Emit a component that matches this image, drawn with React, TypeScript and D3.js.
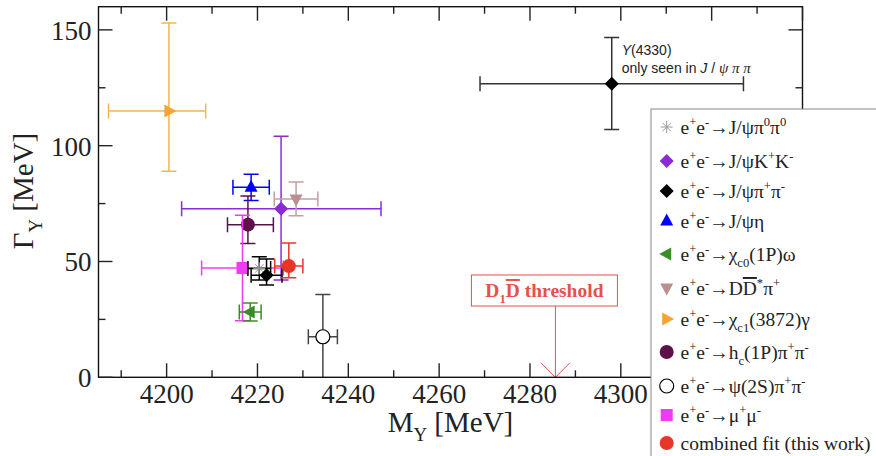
import React from 'react';
import * as d3 from 'd3';

// ---------- data ----------
const seriesLabels = [
  'e^{+}e^{-}→J/ψπ^{0}π^{0}',
  'e^{+}e^{-}→J/ψK^{+}K^{-}',
  'e^{+}e^{-}→J/ψπ^{+}π^{-}',
  'e^{+}e^{-}→J/ψη',
  'e^{+}e^{-}→χ_{c0}(1P)ω',
  'e^{+}e^{-}→D~{D}^{*}π^{+}',
  'e^{+}e^{-}→χ_{c1}(3872)γ',
  'e^{+}e^{-}→h_{c}(1P)π^{+}π^{-}',
  'e^{+}e^{-}→ψ(2S)π^{+}π^{-}',
  'e^{+}e^{-}→μ^{+}μ^{-}',
  'combined fit (this work)',
];
const massMeV = [4220.4, 4225.2, 4222.0, 4218.6, 4218.4, 4228.5, 4200.5, 4217.9, 4234.4, 4216.7, 4226.9];
const massErrLo = [2.5, 21.9, 3.4, 4.0, 2.4, 4.8, 13.3, 4.5, 3.2, 9.0, 3.1];
const massErrHi = [2.5, 22.0, 3.4, 4.0, 2.4, 4.8, 8.1, 5.6, 3.2, 9.0, 3.1];
const widthMeV = [47.0, 72.8, 44.1, 82.0, 28.2, 77.0, 115.0, 65.9, 17.5, 47.2, 48.0];
const widthErrLo = [5.0, 30.8, 4.3, 5.7, 3.9, 7.3, 26.0, 8.1, 18.3, 22.8, 5.0];
const widthErrHi = [5.0, 31.3, 7.0, 5.7, 3.9, 7.3, 38.0, 12.4, 18.3, 22.8, 10.0];

const y4330Mass = 4298.0;
const y4330MassErr = [29.0, 29.0];
const y4330Width = 126.7;
const y4330WidthErr = [19.7, 20.0];

const thresholdMass = 4285.6;
const thresholdLabel = 'D_{1}~{D} threshold';

const xMajorTicks = [4200, 4220, 4240, 4260, 4280, 4300, 4320, 4340];
const xMinorTicks = [4190, 4210, 4230, 4250, 4270, 4290, 4310, 4330];
const yMajorTicks = [0, 50, 100, 150];
const yMinorTicks = [25, 75, 125];

// ---------- style ----------
const markerKind = ['asterisk', 'diamond', 'diamond', 'triUp', 'triLeft', 'triDown', 'triRight', 'circle', 'open', 'square', 'circle'];
const markerColor = ['#9a9a9a', '#8A2BD6', '#000000', '#0000FF', '#3A8C26', '#B99090', '#F5A431', '#5C1148', '#000000', '#F03CF0', '#E8352A'];
const barColor = ['#000000', '#8A2BD6', '#000000', '#0000FF', '#3A8C26', '#C0A0A0', '#F5B454', '#5C1148', '#444444', '#F03CF0', '#E8352A'];

const SERIF = "'Liberation Serif', 'Times New Roman', Times, serif";
const SANS = "'Liberation Sans', Arial, Helvetica, sans-serif";

type Seg = { t: string; k: string };
function parseRich(s: string): Seg[] {
  const out: Seg[] = [];
  const re = /([\^_~])\{([^}]*)\}/g;
  let i = 0;
  let m: RegExpExecArray | null;
  while ((m = re.exec(s))) {
    if (m.index > i) out.push({ t: s.slice(i, m.index), k: 'n' });
    out.push({ t: m[2], k: m[1] === '^' ? 'sup' : m[1] === '_' ? 'sub' : 'bar' });
    i = re.lastIndex;
  }
  if (i < s.length) out.push({ t: s.slice(i), k: 'n' });
  return out;
}

function Rich({ s, fs }: { s: string; fs: number }) {
  const segs = parseRich(s);
  let cur = 0;
  return (
    <>
      {segs.map((p, i) => {
        const target = p.k === 'sup' ? -0.42 * fs : p.k === 'sub' ? 0.3 * fs : 0;
        const dy = target - cur;
        cur = target;
        const small = p.k === 'sup' || p.k === 'sub';
        return (
          <tspan
            key={i}
            dy={dy}
            fontSize={small ? fs * 0.65 : fs}
            style={p.k === 'bar' ? { textDecoration: 'overline' } : undefined}
          >
            {p.t}
          </tspan>
        );
      })}
    </>
  );
}

function Marker({ kind, cx, cy, color }: { kind: string; cx: number; cy: number; color: string }) {
  switch (kind) {
    case 'diamond':
      return <path d={`M${cx},${cy - 7}L${cx + 7},${cy}L${cx},${cy + 7}L${cx - 7},${cy}Z`} fill={color} />;
    case 'triUp':
      return <path d={`M${cx},${cy - 7.5}L${cx + 6.5},${cy + 4.5}L${cx - 6.5},${cy + 4.5}Z`} fill={color} />;
    case 'triDown':
      return <path d={`M${cx},${cy + 7.5}L${cx + 6.5},${cy - 4.5}L${cx - 6.5},${cy - 4.5}Z`} fill={color} />;
    case 'triLeft':
      return <path d={`M${cx - 7.5},${cy}L${cx + 4.5},${cy - 6.5}L${cx + 4.5},${cy + 6.5}Z`} fill={color} />;
    case 'triRight':
      return <path d={`M${cx + 7.5},${cy}L${cx - 4.5},${cy - 6.5}L${cx - 4.5},${cy + 6.5}Z`} fill={color} />;
    case 'circle':
      return <circle cx={cx} cy={cy} r={7} fill={color} />;
    case 'open':
      return <circle cx={cx} cy={cy} r={7} fill="#fff" stroke={color} strokeWidth={1.2} />;
    case 'square':
      return <rect x={cx - 6} y={cy - 6} width={12} height={12} fill={color} />;
    case 'asterisk':
      return (
        <g stroke={color} strokeWidth={1}>
          <line x1={cx - 6} y1={cy} x2={cx + 6} y2={cy} />
          <line x1={cx} y1={cy - 6} x2={cx} y2={cy + 6} />
          <line x1={cx - 4.3} y1={cy - 4.3} x2={cx + 4.3} y2={cy + 4.3} />
          <line x1={cx - 4.3} y1={cy + 4.3} x2={cx + 4.3} y2={cy - 4.3} />
        </g>
      );
    default:
      return null;
  }
}

function ErrorBars({ x0, x1, y0, y1, cx, cy, color }: any) {
  const c = 7.5;
  return (
    <g stroke={color} strokeWidth={1.5} fill="none">
      <line x1={x0} y1={cy} x2={x1} y2={cy} />
      <line x1={cx} y1={y0} x2={cx} y2={y1} />
      <line x1={x0} y1={cy - c} x2={x0} y2={cy + c} />
      <line x1={x1} y1={cy - c} x2={x1} y2={cy + c} />
      <line x1={cx - c} y1={y0} x2={cx + c} y2={y0} />
      <line x1={cx - c} y1={y1} x2={cx + c} y2={y1} />
    </g>
  );
}

export default function App() {
  const W = 876;
  const H = 456;
  const left = 98.5, right = 802.5, top = 6.7, bottom = 377.3;
  const x = d3.scaleLinear().domain([4185, 4340]).range([left, right]);
  const y = d3.scaleLinear().domain([0, 160]).range([bottom, top]);

  const legendRows = [127, 161, 191, 221, 254, 288, 319, 352, 386, 415, 443];
  const legendX = 651;
  const legendY = 109;

  const drawOrder = [6, 1, 3, 5, 7, 9, 4, 0, 2, 8, 10];

  const tx = x(thresholdMass);

  return (
    <svg width={W} height={H} style={{ position: 'absolute', left: 0, top: 0, background: '#fff' }}>
      <defs>
        <clipPath id="plotClip">
          <rect x={left} y={top} width={right - left} height={bottom - top} />
        </clipPath>
      </defs>
      <rect x={0} y={0} width={W} height={H} fill="#fff" />

      {/* data */}
      <g clipPath="url(#plotClip)">
        {drawOrder.map((i) => {
          const cx = x(massMeV[i]);
          const cy = y(widthMeV[i]);
          return (
            <g key={i}>
              <ErrorBars
                x0={x(massMeV[i] - massErrLo[i])}
                x1={x(massMeV[i] + massErrHi[i])}
                y0={y(widthMeV[i] + widthErrHi[i])}
                y1={y(widthMeV[i] - widthErrLo[i])}
                cx={cx}
                cy={cy}
                color={barColor[i]}
              />
              <Marker kind={markerKind[i]} cx={cx} cy={cy} color={markerColor[i]} />
            </g>
          );
        })}
        <ErrorBars
          x0={x(y4330Mass - y4330MassErr[0])}
          x1={x(y4330Mass + y4330MassErr[1])}
          y0={y(y4330Width + y4330WidthErr[1])}
          y1={y(y4330Width - y4330WidthErr[0])}
          cx={x(y4330Mass)}
          cy={y(y4330Width)}
          color="#333"
        />
        <Marker kind="diamond" cx={x(y4330Mass)} cy={y(y4330Width)} color="#000" />
      </g>

      {/* Y(4330) annotation */}
      <text x={x(y4330Mass) + 10} y={55} fontFamily={SANS} fontSize={14} fill="#222">
        <tspan fontStyle="italic">Y</tspan>
        <tspan>(4330)</tspan>
      </text>
      <text x={x(y4330Mass) + 10} y={73} fontFamily={SANS} fontSize={14} fill="#222">
        <tspan>only seen in </tspan>
        <tspan fontStyle="italic">J</tspan>
        <tspan> / </tspan>
        <tspan fontFamily={SERIF} fontStyle="italic" fontSize={15}>ψ π π</tspan>
      </text>

      {/* threshold */}
      <g stroke="#E8504A" strokeWidth={1} fill="none">
        <rect x={tx - 84} y={275} width={146} height={31} />
        <line x1={tx} y1={306} x2={tx} y2={bottom} />
        <path d={`M${tx - 14.5},${bottom - 14.5}L${tx},${bottom}L${tx + 14.5},${bottom - 14.5}`} />
      </g>
      <text x={tx - 11} y={297} textAnchor="middle" fontFamily={SERIF} fontWeight="bold" fontSize={19.5} fill="#E8504A">
        <Rich s={thresholdLabel} fs={19.5} />
      </text>

      {/* frame */}
      <rect x={left} y={top} width={right - left} height={bottom - top} fill="none" stroke="#111" strokeWidth={1.4} />
      <g stroke="#222" strokeWidth={1.4}>
        {xMajorTicks.map((t) => (
          <g key={'xM' + t}>
            <line x1={x(t)} y1={bottom} x2={x(t)} y2={bottom - 14} />
            <line x1={x(t)} y1={top} x2={x(t)} y2={top + 14} />
          </g>
        ))}
        {xMinorTicks.map((t) => (
          <g key={'xm' + t}>
            <line x1={x(t)} y1={bottom} x2={x(t)} y2={bottom - 7} />
            <line x1={x(t)} y1={top} x2={x(t)} y2={top + 7} />
          </g>
        ))}
        {yMajorTicks.map((t) => (
          <g key={'yM' + t}>
            <line x1={left} y1={y(t)} x2={left + 14} y2={y(t)} />
            <line x1={right} y1={y(t)} x2={right - 14} y2={y(t)} />
          </g>
        ))}
        {yMinorTicks.map((t) => (
          <g key={'ym' + t}>
            <line x1={left} y1={y(t)} x2={left + 7} y2={y(t)} />
            <line x1={right} y1={y(t)} x2={right - 7} y2={y(t)} />
          </g>
        ))}
      </g>
      <g fontFamily={SERIF} fontSize={27} fill="#222">
        {xMajorTicks.map((t) => (
          <text key={'xl' + t} x={x(t)} y={bottom + 25.5} textAnchor="middle">
            {t}
          </text>
        ))}
        {yMajorTicks.map((t) => (
          <text key={'yl' + t} x={91.5} y={y(t) + 10} textAnchor="end">
            {t}
          </text>
        ))}
      </g>
      <text x={(left + right) / 2} y={432} textAnchor="middle" fontFamily={SERIF} fontSize={29} fill="#222">
        <Rich s="M_{Y} [MeV]" fs={29} />
      </text>
      <text transform={`translate(33,${191}) rotate(-90)`} textAnchor="middle" fontFamily={SERIF} fontSize={29} fill="#222">
        <Rich s="Γ_{Y} [MeV]" fs={29} />
      </text>

      {/* legend */}
      <rect x={legendX} y={legendY} width={W - legendX + 20} height={H - legendY + 20} fill="#fff" stroke="#888" strokeWidth={1} />
      {seriesLabels.map((lab, i) => (
        <g key={'lg' + i}>
          <Marker kind={markerKind[i]} cx={666.7} cy={legendRows[i]} color={markerColor[i]} />
          <text x={680.5} y={legendRows[i] + 7} fontFamily={SERIF} fontSize={19.5} fill="#222">
            <Rich s={lab} fs={19.5} />
          </text>
        </g>
      ))}
    </svg>
  );
}
